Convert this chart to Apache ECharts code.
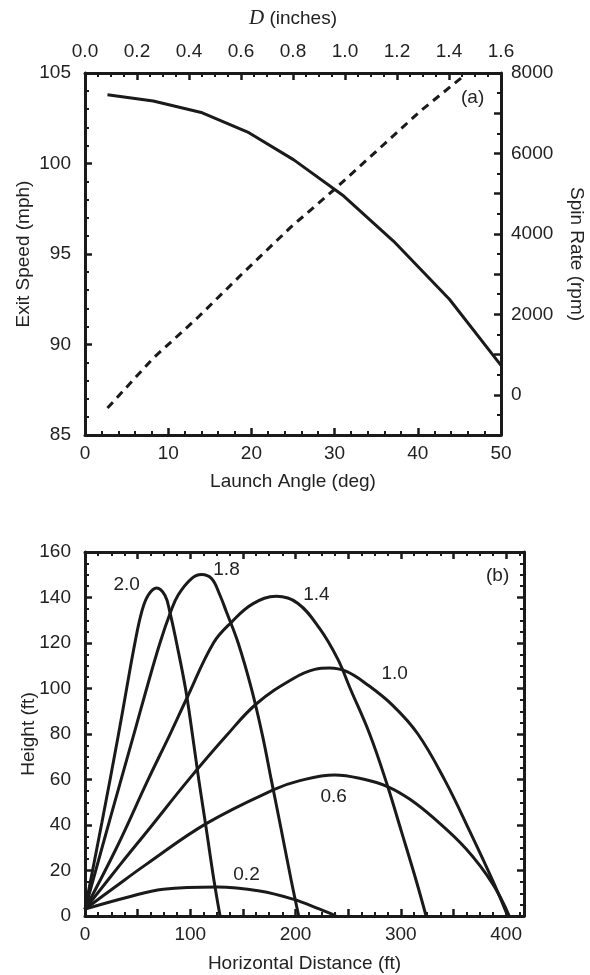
<!DOCTYPE html>
<html>
<head>
<meta charset="utf-8">
<script src="https://cdn.jsdelivr.net/npm/echarts@6/dist/echarts.min.js"></script>
<style>
html, body { margin: 0; padding: 0; background: #fff; }
#chart { width: 590px; height: 975px; }
</style>
</head>
<body>
<div id="chart"></div>
<script>
// panel (a): exit speed and spin rate against launch angle
const speedAngle = [2.7, 8.2, 14.1, 19.7, 25.1, 31.1, 37.1, 43.8, 50];
const exitSpeed = [103.8, 103.45, 102.8, 101.7, 100.2, 98.2, 95.7, 92.5, 88.85];
const spinAngle = [2.7, 8.2, 13.5, 19, 24.7, 30, 35.1, 40.4, 45.6];
const spinRate = [-330, 910, 1910, 3030, 4160, 5110, 6070, 7070, 7940];

// panel (b): trajectories, one pair of arrays per undercut distance D
const dist20 = [0, 16, 31.6, 39.5, 47.4, 53.8, 60, 68, 75.9, 80.6, 87, 95.5, 101.5, 108.2, 115, 122.6, 128.3];
const height20 = [3, 41, 79.3, 99.9, 120, 133.6, 141, 144.2, 141, 133.6, 120, 99.9, 81.5, 59.5, 38.9, 15.4, 0];
const dist18 = [0, 24, 47.4, 58.5, 71.2, 81.3, 88.5, 101.2, 110.7, 120.2, 128.1, 134.4, 145.5, 158.1, 168.6, 177.1, 186, 196, 203];
const height18 = [3, 43, 81.5, 99.9, 120, 133.6, 141.1, 148.3, 150.1, 148.3, 141.1, 133.6, 120, 99.9, 79.3, 59.5, 38.9, 15.4, 0];
const dist14 = [0, 30, 59.5, 81.3, 96.5, 122, 139.2, 159.7, 181.8, 202, 223, 240, 252, 270.4, 286.8, 300.4, 314.7, 324];
const height14 = [3, 30, 59.5, 80.4, 95.5, 120, 129.2, 137.3, 140.5, 137.5, 126.3, 113, 99.9, 80, 58, 37.4, 15.4, 0];
const dist10 = [0, 33.8, 62, 97.7, 134.4, 162.9, 197.6, 218.2, 232.4, 248.3, 267.3, 292.5, 316.2, 342, 365.3, 387.4, 401.5];
const height10 = [3, 22.8, 38.9, 59.5, 79.3, 93.3, 104.3, 108.4, 109, 107.5, 102, 92.5, 80, 59.5, 37.4, 15.4, 0];
const dist06 = [0, 26.9, 58.5, 115.5, 178.7, 204, 237.2, 264, 287.8, 308.3, 330.5, 362.1, 387.4, 403];
const height06 = [3, 12.2, 22.8, 40.7, 55.4, 59.5, 62, 60.2, 56.8, 51.4, 43.3, 29.4, 14, 0];
const dist02 = [0, 39.5, 74.3, 125.5, 166, 197.6, 223, 238.5];
const height02 = [3, 8.1, 11.8, 12.8, 11, 7.4, 3, 0];

const curveNames = ['2.0', '1.8', '1.4', '1.0', '0.6', '0.2'];
const labelDist = [39.6, 134.4, 219.8, 294.1, 236.2, 153.4];
const labelHeight = [145.4, 152.3, 141.4, 106.5, 52.4, 18.1];

const ink = '#1a1a1a';
const font = 'Liberation Sans, Arial, Helvetica, sans-serif';

function zip(xs, ys) {
    return xs.map((x, i) => [x, ys[i]]);
}

// framed axis with inward ticks, like the original plot
function frameAxis(extra, minorSplit) {
    return Object.assign({
        type: 'value',
        axisLine: {show: true, onZero: false, lineStyle: {color: ink, width: 3}},
        axisTick: {show: true, inside: true, length: 7, lineStyle: {color: ink, width: 2.5}},
        minorTick: {show: true, splitNumber: minorSplit, length: 4, lineStyle: {color: ink, width: 2}},
        splitLine: {show: false},
        minorSplitLine: {show: false},
        axisLabel: {color: '#222', fontSize: 19, fontFamily: font, margin: 10},
        nameLocation: 'middle',
        nameMoveOverlap: false,
        nameTextStyle: {color: '#222', fontSize: 19, fontFamily: font}
    }, extra);
}

const trajectories = [
    zip(dist20, height20), zip(dist18, height18), zip(dist14, height14),
    zip(dist10, height10), zip(dist06, height06), zip(dist02, height02)
];

const option = {
    animation: false,
    grid: [
        {left: 85, top: 73, width: 416, height: 362, containLabel: false, outerBoundsMode: 'none'},
        {left: 85, top: 552, width: 439, height: 364, containLabel: false, outerBoundsMode: 'none'}
    ],
    xAxis: [
        frameAxis({gridIndex: 0, position: 'bottom', min: 0, max: 50, interval: 10,
            name: 'Launch Angle (deg)', nameGap: 37,
            axisLabel: {color: '#222', fontSize: 19, fontFamily: font, margin: 9}}, 5),
        frameAxis({gridIndex: 0, position: 'top', min: 0, max: 1.6, interval: 0.2,
            name: '{d|D} (inches)', nameGap: 44,
            nameTextStyle: {color: '#222', fontSize: 19, fontFamily: font,
                rich: {d: {fontFamily: 'Liberation Serif, serif', fontStyle: 'italic', fontSize: 21, color: '#222'}}},
            axisLabel: {color: '#222', fontSize: 19, fontFamily: font, margin: 12,
                formatter: v => v.toFixed(1)}}, 4),
        frameAxis({gridIndex: 1, position: 'bottom', min: 0, max: 417, interval: 50,
            name: 'Horizontal Distance (ft)', nameGap: 38,
            axisLabel: {color: '#222', fontSize: 19, fontFamily: font, margin: 9,
                formatter: v => (v % 100 === 0 ? String(v) : '')}}, 4),
        frameAxis({gridIndex: 1, position: 'top', min: 0, max: 417, interval: 50,
            axisLabel: {show: false}}, 4)
    ],
    yAxis: [
        frameAxis({gridIndex: 0, position: 'left', min: 85, max: 105, interval: 5,
            name: 'Exit Speed (mph)', nameGap: 52,
            axisLabel: {color: '#222', fontSize: 19, fontFamily: font, margin: 14}}, 5),
        frameAxis({gridIndex: 0, position: 'right', min: -1000, max: 8000, interval: 1000,
            name: 'Spin Rate (rpm)', nameGap: 66, nameRotate: -90,
            axisLabel: {color: '#222', fontSize: 19, fontFamily: font, margin: 10,
                formatter: v => (v >= 0 && v % 2000 === 0 ? String(v) : '')}}, 2),
        frameAxis({gridIndex: 1, position: 'left', min: 0, max: 160, interval: 20,
            name: 'Height (ft)', nameGap: 47,
            axisLabel: {color: '#222', fontSize: 19, fontFamily: font, margin: 14}}, 4),
        frameAxis({gridIndex: 1, position: 'right', min: 0, max: 160, interval: 20,
            axisLabel: {show: false}}, 4)
    ],
    graphic: [
        {type: 'text', left: 461, top: 88, style: {text: '(a)', fontSize: 19, fontFamily: font, fill: '#222'}},
        {type: 'text', left: 486, top: 566, style: {text: '(b)', fontSize: 19, fontFamily: font, fill: '#222'}}
    ],
    series: [
        {
            type: 'line', xAxisIndex: 0, yAxisIndex: 0, symbol: 'none', silent: true,
            data: zip(speedAngle, exitSpeed),
            lineStyle: {color: ink, width: 3}
        },
        {
            type: 'line', xAxisIndex: 0, yAxisIndex: 1, symbol: 'none', silent: true,
            data: zip(spinAngle, spinRate),
            lineStyle: {color: ink, width: 3, type: [8, 6]}
        }
    ].concat(trajectories.map(d => ({
        type: 'line', xAxisIndex: 2, yAxisIndex: 2, symbol: 'none', silent: true,
        smooth: 0.4, data: d,
        lineStyle: {color: ink, width: 3}
    }))).concat([{
        type: 'scatter', xAxisIndex: 2, yAxisIndex: 2, symbolSize: 0, silent: true,
        itemStyle: {color: ink, opacity: 1},
        data: curveNames.map((n, i) => ({name: n, value: [labelDist[i], labelHeight[i]]})),
        label: {show: true, position: 'inside', formatter: p => p.name,
            color: '#222', textBorderWidth: 0, opacity: 1, fontSize: 19, fontFamily: font}
    }])
};

const chart = echarts.init(document.getElementById('chart'));
chart.setOption(option);
</script>
</body>
</html>
